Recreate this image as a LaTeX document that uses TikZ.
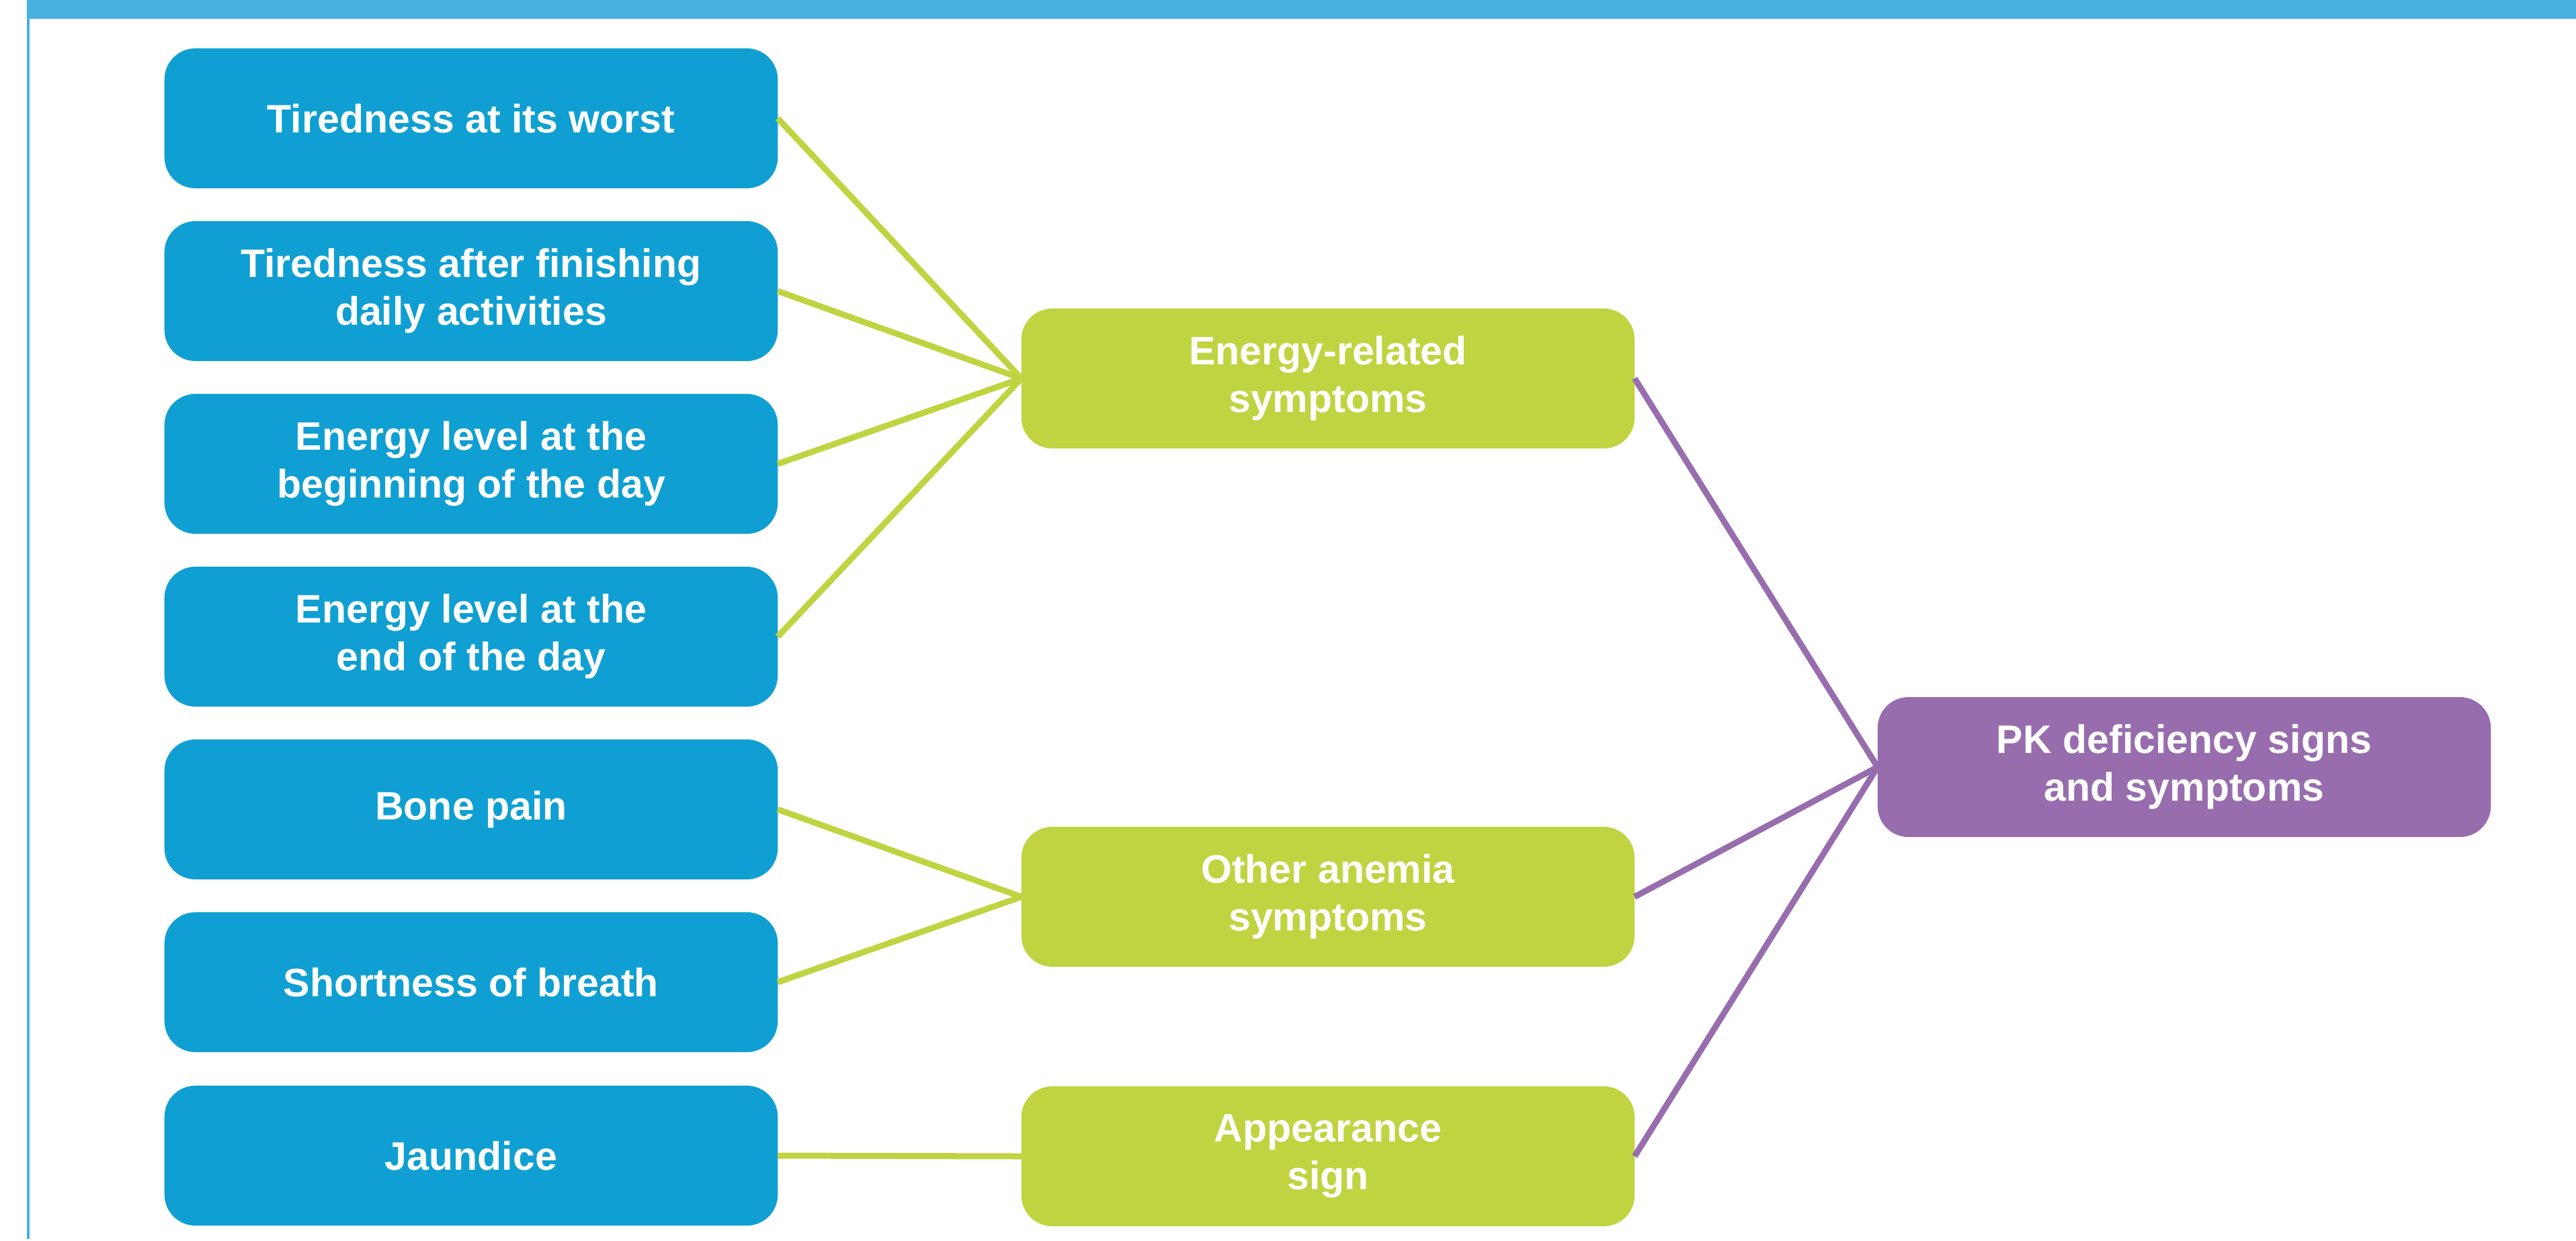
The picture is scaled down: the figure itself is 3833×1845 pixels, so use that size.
\documentclass[tikz,border=0pt]{standalone}
\usepackage{fontspec}
\setmainfont{Liberation Sans}
\definecolor{boxblue}{HTML}{0F9FD2}
\definecolor{boxgreen}{HTML}{C0D340}
\definecolor{boxpurple}{HTML}{976DAE}
\definecolor{framebl}{HTML}{48B1E0}
\begin{document}
\begin{tikzpicture}[x=0.01cm,y=-0.01cm,
  base/.style={rounded corners=0.46cm, minimum width=9.12cm, minimum height=2.08cm,
    inner sep=0pt, outer sep=0pt, align=center, text=white,
    font=\fontsize{16.8}{20.2}\selectfont\bfseries},
  bluebox/.style={base, fill=boxblue},
  greenbox/.style={base, fill=boxgreen},
  purplebox/.style={base, fill=boxpurple},
  gline/.style={draw=boxgreen, line width=0.09cm},
  pline/.style={draw=boxpurple, line width=0.09cm}]
\useasboundingbox (0,0) rectangle (3833,1845);
\fill[white] (0,0) rectangle (3833,1845);
\fill[framebl] (40,0) rectangle (3833,28);
\fill[framebl] (40,28) rectangle (44,1843);

\node[bluebox] (b1) at (701,176) {Tiredness at its worst};
\node[bluebox] (b2) at (701,433) {Tiredness after finishing\\daily activities};
\node[bluebox] (b3) at (701,690) {Energy level at the\\beginning of the day};
\node[bluebox] (b4) at (701,947) {Energy level at the\\end of the day};
\node[bluebox] (b5) at (701,1204) {Bone pain};
\node[bluebox] (b6) at (701,1461) {Shortness of breath};
\node[bluebox] (b7) at (701,1719) {Jaundice};

\node[greenbox] (g1) at (1976,563) {Energy-related\\symptoms};
\node[greenbox] (g2) at (1976,1334) {Other anemia\\symptoms};
\node[greenbox] (g3) at (1976,1720) {Appearance\\sign};

\node[purplebox] (p) at (3250,1141) {PK deficiency signs\\and symptoms};

\foreach \b in {b1,b2,b3,b4} \draw[gline] (\b.east) -- (g1.west);
\foreach \b in {b5,b6} \draw[gline] (\b.east) -- (g2.west);
\draw[gline] (b7.east) -- (g3.west);
\foreach \g in {g1,g2,g3} \draw[pline] (\g.east) -- (p.west);
\end{tikzpicture}
\end{document}
